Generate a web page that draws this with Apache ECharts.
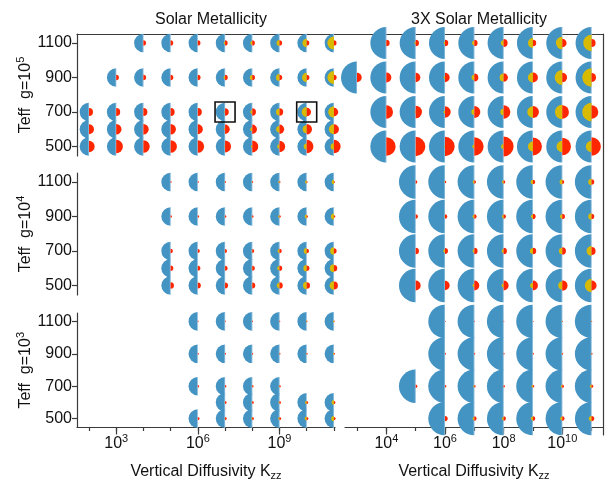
<!DOCTYPE html>
<html>
<head>
<meta charset="utf-8">
<script src="https://cdn.jsdelivr.net/npm/echarts@6/dist/echarts.min.js"></script>
<style>
  html, body { margin: 0; padding: 0; background: #fff; }
  #chart { width: 605px; height: 484px; }
</style>
</head>
<body>
<div id="chart"></div>
<script>
// Temperature rows and Kzz decades (log10 Kzz)
const teffTicks = [500, 700, 900, 1100];
const solarKzzTicks = [2, 3, 4, 5, 6, 7, 8, 9, 10, 11];
const solarKzzLabels = [3, 6, 9];
const richKzzTicks = [3, 4, 5, 6, 7, 8, 9, 10, 11];
const richKzzLabels = [4, 6, 8, 10];

// Each point: [log10 Kzz, Teff, blue amount, yellow amount, red amount]
const solarG5 = [
  [4,1100,4.65,0,1.3],[5,1100,4.65,0.15,1.3],[6,1100,4.65,0.35,1.3],[7,1100,4.65,0.65,1.3],
  [8,1100,4.65,1,1.3],[9,1100,4.65,1.5,1.3],[10,1100,4.65,2.15,1.3],[11,1100,4.65,3.25,1.3],
  [3,900,4.65,0,1.35],[4,900,4.65,0,1.35],[5,900,4.65,0.15,1.35],[6,900,4.65,0.35,1.35],[7,900,4.65,0.75,1.35],
  [8,900,4.65,1.25,1.35],[9,900,4.65,1.75,1.35],[10,900,4.65,2.35,1.35],[11,900,4.65,3.25,1.35],
  [2,700,4.65,0,2],[3,700,4.65,0,2],[4,700,4.65,0,2],[5,700,4.65,0,2],[6,700,4.65,0.15,2],
  [7,700,4.65,0.4,1.85],[8,700,4.65,1,1.85],[9,700,4.65,1.75,1.85],[10,700,4.65,2.5,2.15],[11,700,4.65,2.85,2.15],
  [2,600,4.65,0,2.5],[3,600,4.65,0,2.65],[4,600,4.65,0,2.65],[5,600,4.65,0,2.65],[6,600,4.65,0,2.5],
  [7,600,4.65,0.5,2.35],[8,600,4.65,1,2.35],[9,600,4.65,1.65,2.35],[10,600,4.65,2,2.65],[11,600,4.65,2.5,2.5],
  [2,500,4.65,0,2.85],[3,500,4.65,0,3.35],[4,500,4.65,0,3.15],[5,500,4.65,0,3.15],[6,500,4.65,0,3.15],
  [7,500,4.65,0.35,3],[8,500,4.65,0.65,3],[9,500,4.65,1.15,2.85],[10,500,4.65,1.5,3.35],[11,500,4.65,1.65,3.35]
];
const solarG4 = [
  [5,1100,4.65,0,0.5],[6,1100,4.65,0.15,0.5],[7,1100,4.65,0.25,0.5],[8,1100,4.65,0.35,0.5],
  [9,1100,4.65,0.6,0.5],[10,1100,4.65,0.85,0.5],[11,1100,4.65,1.15,0.5],
  [5,900,4.65,0,0.65],[6,900,4.65,0.15,0.65],[7,900,4.65,0.25,0.65],[8,900,4.65,0.35,0.65],
  [9,900,4.65,0.65,0.65],[10,900,4.65,1,0.65],[11,900,4.65,1.5,0.65],
  [5,700,4.65,0,1.15],[6,700,4.65,0.15,1],[7,700,4.65,0.25,1],[8,700,4.65,0.4,1],
  [9,700,4.65,1,1.15],[10,700,4.65,1.5,1.15],[11,700,4.65,1.85,1.35],
  [5,600,4.65,0,1.35],[6,600,4.65,0.15,1.25],[7,600,4.65,0.25,1.25],[8,600,4.65,0.4,1.25],
  [9,600,4.65,1.15,1.35],[10,600,4.65,1.65,1.35],[11,600,4.65,2,1.65],
  [5,500,4.65,0,1.65],[6,500,4.65,0.15,1.5],[7,500,4.65,0.25,1.5],[8,500,4.65,0.35,1.5],
  [9,500,4.65,1.35,1.65],[10,500,4.65,1.85,1.65],[11,500,4.65,2.15,2]
];
const solarG3 = [
  [6,1100,4.65,0,0.4],[7,1100,4.65,0.15,0.4],[8,1100,4.65,0.25,0.4],[9,1100,4.65,0.25,0.4],[10,1100,4.65,0.4,0.4],[11,1100,4.65,0.5,0.4],
  [6,900,4.65,0,0.5],[7,900,4.65,0.15,0.5],[8,900,4.65,0.25,0.5],[9,900,4.65,0.25,0.5],[10,900,4.65,0.4,0.5],[11,900,4.65,0.5,0.5],
  [6,700,4.65,0,0.6],[7,700,4.65,0.15,0.6],[8,700,4.65,0.25,0.6],[9,700,4.65,0.4,0.6],
  [7,600,4.65,0.25,0.75],[8,600,4.65,0.35,0.75],[9,600,4.65,0.5,0.75],[10,600,4.65,0.85,0.75],[11,600,4.65,1.15,0.75],
  [6,500,4.65,0,0.85],[7,500,4.65,0.25,0.85],[8,500,4.65,0.5,0.85],[9,500,4.65,0.65,0.85],[10,500,4.65,1,0.85],[11,500,4.65,1.35,0.85]
];
const richG5 = [
  [4,1100,8,0.35,1.65],[5,1100,8,0.65,1.65],[6,1100,8,0.65,1.65],[7,1100,8,1.15,1.65],
  [8,1100,8,1.35,2],[9,1100,8,2.5,1.65],[10,1100,8,3.15,2.15],[11,1100,8,4.15,2],
  [3,900,8,0,2.35],[4,900,8,0.25,2.5],[5,900,8,0.4,2.35],[6,900,8,0.65,2.35],[7,900,8,1.35,2],
  [8,900,8,2,2.15],[9,900,8,2.5,2.5],[10,900,8,3.75,2.4],[11,900,8,4.65,2.25],
  [4,700,8,0.25,3.35],[5,700,8,0.5,3.15],[6,700,8,0.75,2.85],[7,700,8,1.5,3],
  [8,700,8,1.65,3.35],[9,700,8,2.85,3],[10,700,8,3.65,3.35],[11,700,8,4.65,3.35],
  [4,500,8,0,4.65],[5,500,8,0,4.85],[6,500,8,0.35,4.85],[7,500,8,1,4.65],
  [8,500,8,1.25,5],[9,500,8,2.5,4.5],[10,500,8,2.85,4.35],[11,500,8,2.85,4.65]
];
const richG4 = [
  [5,1100,8.35,0,0.85],[6,1100,8.35,0.3,0.65],[7,1100,8.35,0.8,0.85],[8,1100,8.35,0.8,0.85],
  [9,1100,8.35,1.15,1.15],[10,1100,8.35,1.3,1],[11,1100,8.35,1.65,1.35],
  [5,900,8.35,0,1.15],[6,900,8.35,0.35,1.15],[7,900,8.35,0.85,1.15],[8,900,8.35,0.85,1.15],
  [9,900,8.35,1,1.35],[10,900,8.35,1.15,1.35],[11,900,8.35,1.65,1.35],
  [5,700,8.35,0,1.65],[6,700,8.35,0.85,1.5],[7,700,8.35,0.85,1.65],[8,700,8.35,1,1.65],
  [9,700,8.35,1.5,1.65],[10,700,8.35,1.65,1.85],[11,700,8.35,2.5,2],
  [5,500,8.35,0,2.5],[6,500,8.35,0,2.35],[7,500,8.35,0.85,2.5],[8,500,8.35,1,2.5],
  [9,500,8.35,1.35,2.5],[10,500,8.35,2,2.65],[11,500,8.35,3.35,2.5]
];
const richG3 = [
  [6,1100,8.35,0,0.35],[7,1100,8.35,0,0.35],[8,1100,8.35,0.15,0.35],[9,1100,8.35,0.15,0.35],[10,1100,8.35,0.35,0.35],[11,1100,8.35,0.35,0.35],
  [6,900,8.35,0,0.5],[7,900,8.35,0.15,0.5],[8,900,8.35,0.15,0.5],[9,900,8.35,0.25,0.5],[10,900,8.35,0.35,0.5],[11,900,8.35,0.35,0.5],
  [5,700,8.35,0,0.85],[6,700,8.35,0,0.65],[7,700,8.35,0.5,0.65],[8,700,8.35,0.25,0.65],[9,700,8.35,0.65,0.65],[10,700,8.35,0.65,0.85],[11,700,8.35,0.85,0.85],
  [6,500,8.35,0,1.35],[7,500,8.35,0.85,1.15],[8,500,8.35,0.85,1.15],[9,500,8.35,1,1.15],[10,500,8.35,1,1.15],[11,500,8.35,1.35,1.35]
];
// Models singled out with a frame: [log10 Kzz, Teff]
const highlighted = [[7, 700], [10, 700]];

const RADIUS_PER_UNIT = 2;      // glyph radius in px per unit of amount
const BLUE = '#4393c3';
const YELLOW = '#d8bb00';
const RED = '#ff2600';
const FONT = '"Liberation Sans", Arial, Helvetica, sans-serif';
const INK = '#111';
const SPINE = { color: '#3a3a3a', width: 1.2 };

const solarRange = { min: 1.56, max: 11.04 };
const richRange = { min: 2.59, max: 11.39 };
const teffRange = { min: 445, max: 1152 };

const panelTops = [34, 173, 313];
const panelH = 122;
const cols = [{ left: 77, width: 258 }, { left: 345, width: 258 }];

function glyph(params, api) {
  const c = api.coord([api.value(0), api.value(1)]);
  const rb = api.value(2) * RADIUS_PER_UNIT;
  const ry = api.value(3) * RADIUS_PER_UNIT;
  const rr = api.value(4) * RADIUS_PER_UNIT;
  const left = { startAngle: Math.PI / 2, endAngle: Math.PI * 1.5, clockwise: true };
  const right = { startAngle: -Math.PI / 2, endAngle: Math.PI / 2, clockwise: true };
  const kids = [
    { type: 'sector', shape: Object.assign({ cx: c[0], cy: c[1], r0: 0, r: rb }, left), style: { fill: BLUE } },
    { type: 'line', shape: { x1: c[0] - 0.3, y1: c[1] - rb, x2: c[0] - 0.3, y2: c[1] + rb }, style: { stroke: 'rgba(215,232,246,0.6)', lineWidth: 0.8 } }
  ];
  if (ry > 0) kids.push({ type: 'sector', shape: Object.assign({ cx: c[0], cy: c[1], r0: 0, r: ry }, left), style: { fill: YELLOW } });
  if (rr > 0) kids.push({ type: 'sector', shape: Object.assign({ cx: c[0], cy: c[1], r0: 0, r: rr }, right), style: { fill: RED } });
  return { type: 'group', children: kids };
}

function frameBox(params, api) {
  const c = api.coord([api.value(0), api.value(1)]);
  return { type: 'rect', shape: { x: c[0] - 10, y: c[1] - 10, width: 20, height: 20 },
           style: { fill: 'none', stroke: INK, lineWidth: 1.6 } };
}

const grids = [];
const xAxes = [];
const yAxes = [];
const gNames = ['5', '4', '3'];
for (let r = 0; r < 3; r++) {
  for (let k = 0; k < 2; k++) {
    const gi = r * 2 + k;
    grids.push({ left: cols[k].left, width: cols[k].width, top: panelTops[r], height: panelH });
    const range = k === 0 ? solarRange : richRange;
    const bottom = r === 2;
    xAxes.push({
      type: 'value', gridIndex: gi, min: range.min, max: range.max, position: 'bottom',
      show: bottom,
      axisLine: { show: true, onZero: false, lineStyle: SPINE },
      axisTick: { show: true, length: 3.5, lineStyle: SPINE, customValues: k === 0 ? solarKzzTicks : richKzzTicks },
      axisLabel: { show: false },
      splitLine: { show: false }
    });
    yAxes.push({
      type: 'value', gridIndex: gi, min: teffRange.min, max: teffRange.max,
      show: k === 0,
      axisLine: { show: true, onZero: false, lineStyle: SPINE },
      axisTick: { show: true, length: 5, lineStyle: SPINE, customValues: teffTicks },
      axisLabel: { show: true, customValues: teffTicks, margin: 5, fontSize: 16, color: INK, fontFamily: FONT,
                   formatter: v => String(v) },
      splitLine: { show: false },
      name: '{b|Teff  g=10}{s|' + gNames[r] + '}',
      nameLocation: 'middle', nameRotate: 90, nameGap: 42,
      nameTextStyle: {
        color: INK, fontFamily: FONT,
        rich: {
          b: { fontSize: 16, lineHeight: 16, padding: [4, 0, 0, 0], fontFamily: FONT, color: INK },
          s: { fontSize: 11, lineHeight: 11, verticalAlign: 'top', fontFamily: FONT, color: INK }
        }
      }
    });
  }
}

// Long decade ticks with labels on the bottom row
const supRich = {
  b: { fontSize: 16, lineHeight: 16, padding: [4, 0, 0, 0], fontFamily: FONT, color: INK },
  s: { fontSize: 11, lineHeight: 11, verticalAlign: 'top', fontFamily: FONT, color: INK }
};
const kzzName = '{b|Vertical Diffusivity K}{u|zz}';
const kzzNameStyle = {
  color: INK, fontFamily: FONT,
  rich: {
    b: { fontSize: 16, lineHeight: 16, padding: [0, 0, 3, 0], fontFamily: FONT, color: INK },
    u: { fontSize: 11, lineHeight: 11, verticalAlign: 'bottom', fontFamily: FONT, color: INK }
  }
};
[[4, solarRange, solarKzzLabels], [5, richRange, richKzzLabels]].forEach(([gi, range, labels]) => {
  xAxes.push({
    type: 'value', gridIndex: gi, min: range.min, max: range.max, position: 'bottom',
    axisLine: { show: false, onZero: false },
    axisTick: { show: true, length: 7, lineStyle: SPINE, customValues: labels },
    axisLabel: {
      show: true, customValues: labels, margin: 6,
      formatter: v => '{b|10}{s|' + v + '}', rich: supRich
    },
    splitLine: { show: false },
    name: kzzName, nameLocation: 'middle', nameGap: 38, nameTextStyle: kzzNameStyle
  });
});

// Outer frame: top edge across both columns, right edge down the right column
grids.push({ left: 77, width: 526, top: 34, height: 401 });
xAxes.push({
  type: 'value', gridIndex: 6, min: 0, max: 1, position: 'top',
  axisLine: { show: true, onZero: false, lineStyle: SPINE },
  axisTick: { show: false }, axisLabel: { show: false }, splitLine: { show: false }
});
yAxes.push({
  type: 'value', gridIndex: 6, min: 0, max: 1, position: 'right',
  axisLine: { show: true, onZero: false, lineStyle: SPINE },
  axisTick: { show: false }, axisLabel: { show: false }, splitLine: { show: false }
});

const panels = [solarG5, richG5, solarG4, richG4, solarG3, richG3];
const series = panels.map((data, i) => ({
  type: 'custom', xAxisIndex: i, yAxisIndex: i, renderItem: glyph,
  encode: { x: 0, y: 1 }, data: data, silent: true, clip: false, z: 2
}));
series.push({
  type: 'custom', xAxisIndex: 0, yAxisIndex: 0, renderItem: frameBox,
  encode: { x: 0, y: 1 }, data: highlighted, silent: true, z: 3
});

const chart = echarts.init(document.getElementById('chart'), null, { renderer: 'canvas' });
chart.setOption({
  animation: false,
  backgroundColor: '#fff',
  textStyle: { fontFamily: FONT },
  title: [
    { text: 'Solar Metallicity', left: 206, top: 7, textAlign: 'center',
      textStyle: { fontSize: 16, fontWeight: 'normal', color: INK, fontFamily: FONT } },
    { text: '3X Solar Metallicity', left: 474, top: 7, textAlign: 'center',
      textStyle: { fontSize: 16, fontWeight: 'normal', color: INK, fontFamily: FONT } }
  ],
  grid: grids,
  xAxis: xAxes,
  yAxis: yAxes,
  series: series
});
</script>
</body>
</html>
